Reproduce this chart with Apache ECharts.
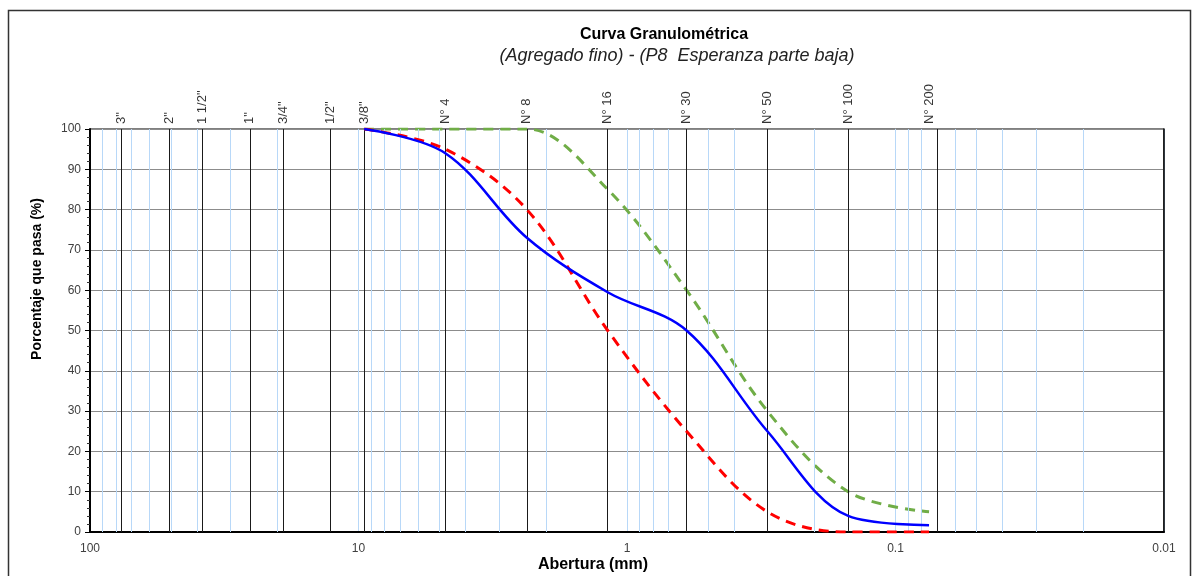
<!DOCTYPE html>
<html>
<head>
<meta charset="utf-8">
<script src="https://cdn.jsdelivr.net/npm/echarts@6/dist/echarts.min.js"></script>
<style>
  html, body {margin: 0; padding: 0; background: #fff;}
  #chart {width: 1192px; height: 576px;}
</style>
</head>
<body>
<div id="chart"></div>
<script>
/* --------------------------------------------------------
 Curva granulometrica - datos
 -----------------------------------------------------------*/
var sieveNames = ['3"', '2"', '1 1/2"', '1"', '3/4"', '1/2"', '3/8"', 'N° 4', 'N° 8', 'N° 16', 'N° 30', 'N° 50', 'N° 100', 'N° 200'];
var sieveSizes = [76.2, 50.8, 38.1, 25.4, 19.05, 12.7, 9.525, 4.75, 2.36, 1.18, 0.6, 0.3, 0.15, 0.075];

var curveSizes = [9.525, 4.75, 2.36, 1.18, 0.6, 0.3, 0.15, 0.075];
var muestra = [100, 94, 73, 59.5, 50, 25, 4, 1.7];
var limiteInferior = [100, 95, 80, 50, 25, 5, 0, 0];
var limiteSuperior = [100, 100, 100, 85, 60, 30, 10, 5];

var decades = [0.01, 0.1, 1, 10];
var minorSteps = [2, 3, 4, 5, 6, 7, 8, 9];

var font = "'Liberation Sans', Arial, sans-serif";

function pairs(xs, ys) {
  var out = [];
  for (var i = 0; i < xs.length; i++) {
    out.push([xs[i], ys[i]]);
  }
  return out;
}

var minorLines = [];
for (var d = 0; d < decades.length; d++) {
  for (var m = 0; m < minorSteps.length; m++) {
    minorLines.push({xAxis: decades[d] * minorSteps[m]});
  }
}

var sieveLines = [];
var sieveLabels = [];
for (var s = 0; s < sieveSizes.length; s++) {
  sieveLines.push({xAxis: sieveSizes[s]});
  sieveLabels.push([sieveSizes[s], 100, sieveNames[s]]);
}

var chart = echarts.init(document.getElementById('chart'));

chart.setOption({
  animation: false,
  textStyle: {fontFamily: font},
  title: [
    {text: 'Curva Granulométrica', left: 659, top: 22, textAlign: 'center',
      textStyle: {fontSize: 16, fontWeight: 'bold', color: '#000', fontFamily: font}},
    {text: '(Agregado fino) - (P8  Esperanza parte baja)', left: 672, top: 42, textAlign: 'center',
      textStyle: {fontSize: 18, fontWeight: 'normal', fontStyle: 'italic', color: '#222', fontFamily: font}},
    {text: 'Abertura (mm)', left: 588, top: 552, textAlign: 'center',
      textStyle: {fontSize: 16, fontWeight: 'bold', color: '#000', fontFamily: font}}
  ],
  graphic: [
    {type: 'rect', shape: {x: 8.5, y: 10.5, width: 1182, height: 620}, style: {fill: 'none', stroke: '#333', lineWidth: 1.5}, silent: true},
    {type: 'text', x: 37, y: 279, rotation: Math.PI / 2,
      style: {text: 'Porcentaje que pasa (%)', font: 'bold 14px ' + font, fill: '#000', textAlign: 'center', textVerticalAlign: 'middle'}}
  ],
  grid: {left: 90, right: 28, top: 129, bottom: 44, show: true, borderColor: '#000', borderWidth: 1},
  xAxis: [{
    type: 'log',
    logBase: 10,
    min: 0.01,
    max: 100,
    inverse: true,
    axisLine: {lineStyle: {color: '#000', width: 2}},
    axisTick: {show: false},
    axisLabel: {color: '#404040', fontSize: 12, margin: 11, fontFamily: font},
    splitLine: {show: true, lineStyle: {color: '#b8d8f8', width: 1}}
  }],
  yAxis: [{
    type: 'value',
    min: 0,
    max: 100,
    interval: 10,
    axisLine: {show: true, lineStyle: {color: '#000', width: 2}},
    axisTick: {show: true, length: 5, lineStyle: {color: '#000'}},
    minorTick: {show: true, splitNumber: 5, length: 3, lineStyle: {color: '#333'}},
    axisLabel: {color: '#404040', fontSize: 12, margin: 9, fontFamily: font},
    splitLine: {show: true, lineStyle: {color: '#8c8c8c', width: 1}}
  }, {
    type: 'value',
    position: 'right',
    min: 0,
    max: 100,
    interval: 10,
    axisLine: {show: true, lineStyle: {color: '#000', width: 1.5}},
    axisTick: {show: false},
    axisLabel: {show: false},
    splitLine: {show: false}
  }],
  series: [
    {
      name: 'grilla', type: 'line', data: [], z: 1, silent: true,
      markLine: {silent: true, symbol: 'none', animation: false, label: {show: false},
        lineStyle: {color: '#b8d8f8', width: 1, type: 'solid'}, data: minorLines}
    },
    {
      name: 'tamices', type: 'line', data: [], z: 2, silent: true,
      markLine: {silent: true, symbol: 'none', animation: false, label: {show: false},
        lineStyle: {color: '#1a1a1a', width: 1, type: 'solid'}, data: sieveLines}
    },
    {
      name: 'etiquetas', type: 'scatter', symbolSize: 0, clip: false, silent: true, z: 3,
      data: sieveLabels,
      label: {show: true, position: 'top', distance: 5, rotate: 90, align: 'left', verticalAlign: 'middle',
        fontSize: 13, color: '#000', fontFamily: font,
        formatter: function (p) { return p.data[2]; }}
    },
    {
      name: 'Límite superior', type: 'line', smooth: 0.35, showSymbol: false, z: 4,
      data: pairs(curveSizes, limiteSuperior),
      lineStyle: {color: '#70ad47', width: 3, type: [10, 7]}
    },
    {
      name: 'Límite inferior', type: 'line', smooth: 0.35, showSymbol: false, z: 5,
      data: pairs(curveSizes, limiteInferior),
      lineStyle: {color: '#ff0000', width: 3, type: [10, 7]}
    },
    {
      name: 'Muestra', type: 'line', smooth: 0.35, showSymbol: false, z: 6,
      data: pairs(curveSizes, muestra),
      lineStyle: {color: '#0000ff', width: 2.5}
    }
  ]
});
</script>
</body>
</html>
